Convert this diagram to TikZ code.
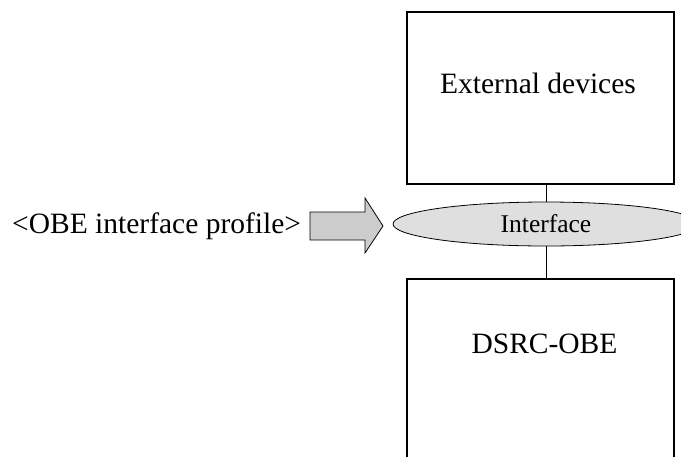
\documentclass[tikz,border=0pt]{standalone}
\usepackage{fontspec}
\setmainfont{Liberation Serif}
\usetikzlibrary{shapes.geometric,calc}

\tikzset{
  unitbox/.style={draw,line width=1.5pt,minimum width=267,minimum height=#1,inner sep=0},
  txt/.style={font=\fontsize{29.5}{34}\selectfont,inner sep=0}
}

\begin{document}
\begin{tikzpicture}[x=1pt,y=-1pt]
  \useasboundingbox (0,0) rectangle (681,456);
  % boxes
  \node[unitbox=172] (ext) at (540.5,98) {};
  \node[unitbox=200] (obe) at (540.5,379) {};
  \node[txt] (extlbl) at (538,83) {External devices};
  \node[txt] (obelbl) at (544.5,344) {DSRC-OBE};
  % interface
  \node[ellipse,draw,fill=gray!25,line width=0.8pt,minimum width=306,minimum height=44,inner sep=0,
        font=\fontsize{25.5}{28}\selectfont] (iface) at (546,224) {Interface};
  \draw[line width=0.8pt] (iface.north) -- (iface.north |- ext.south);
  \draw[line width=0.8pt] (iface.south) -- (iface.south |- obe.north);
  % profile
  \node[txt,anchor=west] (prof) at (12,226) {<OBE interface profile>};
  \draw[fill=gray!40,line width=0.8pt]
    (310,212) -- (365,212) -- (365,198) -- (383,226) -- (365,253) -- (365,240) -- (310,240) -- cycle;
\end{tikzpicture}
\end{document}
